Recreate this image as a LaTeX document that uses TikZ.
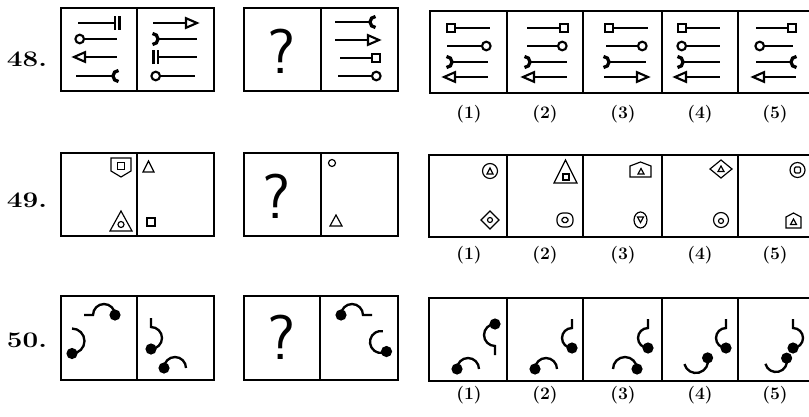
\documentclass[tikz,border=0pt]{standalone}
\usepackage{tikz}
\usetikzlibrary{calc}
\tikzset{
  frame/.style={draw, line width=1.6pt},
  thinframe/.style={draw, line width=1.2pt},
  sym/.style={line width=1.8pt},
  fig/.style={line width=1pt},
  qnum/.style={font=\fontsize{19}{21}\selectfont\bfseries},
  optlbl/.style={font=\fontsize{15}{17}\selectfont\bfseries},
  qmark/.style={font=\fontsize{54}{58}\selectfont\sffamily},
  pics/ring/.style={code={\draw[sym] (4.3,0) circle (4.3);}},
  pics/sqr/.style={code={\draw[sym] (0,-4) rectangle (8,4);}},
  pics/tip/.style={code={\draw[sym, line join=miter] (0,-4.8) -- (11,0) -- (0,4.8) -- cycle;}},
  pics/cup/.style={code={\draw[line width=2.8pt] (5.5,-5.5) arc[start angle=-90, end angle=-270, radius=5.5];}},
  pics/bars/.style={code={\draw[sym] (0,-7) -- (0,7) (4.5,-7) -- (4.5,7);}},
  pics/hook/.style n args={3}{code={
    \draw[line width=2pt] (#1:#3) arc[start angle=#1, end angle=#2, radius=#3];
    \fill (#1:#3) circle (5.6);}},
  pics/hookbar/.style n args={3}{code={
    \draw[line width=2pt] (#1:#3) arc[start angle=#1, end angle=#2, radius=#3] -- ({#2}:{#3+9});
    \fill (#1:#3) circle (5.6);}},
}
\begin{document}
\begin{tikzpicture}[x=0.03cm, y=-0.03cm]
  \useasboundingbox (0,0) rectangle (809,416);
  \clip (0,0) rectangle (809,416);
  % row 48
  \node[qnum] (q48) at (27,59) {\scalebox{1.25}[1]{48.}};
  \draw[frame] (61,8) rectangle (214,91) (137,8) -- (137,91);
  \draw[frame] (244,8) rectangle (398,91) (321,8) -- (321,91);
  \draw[frame] (430,11) rectangle (830,93);
  \foreach \x in {507,583,662,738} \draw[frame] (\x,11) -- (\x,93);
  \node[qmark] (m48) at (282,51) {?};
  \draw[sym] (78,23) -- (115,23); \pic at (115,23) {bars};
  \draw[sym] (84,39) -- (117,39); \pic[rotate=180] at (84,39) {ring};
  \draw[sym] (85,57) -- (117,57); \pic[rotate=180] at (85,57) {tip};
  \draw[sym] (76,76) -- (113,76); \pic at (113,76) {cup};
  \draw[sym] (153,23) -- (186,23); \pic at (186,23) {tip};
  \draw[sym] (158,39) -- (197,39); \pic[rotate=180] at (158,39) {cup};
  \draw[sym] (158,57) -- (197,57); \pic[rotate=180] at (158,57) {bars};
  \draw[sym] (160,76) -- (195,76); \pic[rotate=180] at (160,76) {ring};
  \draw[sym] (335,22) -- (370,22); \pic at (370,22) {cup};
  \draw[sym] (335,40) -- (368,40); \pic at (368,40) {tip};
  \draw[sym] (340,58) -- (372,58); \pic at (372,58) {sqr};
  \draw[sym] (338,76) -- (372,76); \pic at (372,76) {ring};
  \draw[sym] (455,28) -- (490,28); \pic[rotate=180] at (455,28) {sqr};
  \draw[sym] (447,46) -- (482,46); \pic at (482,46) {ring};
  \draw[sym] (452,62) -- (488,62); \pic[rotate=180] at (452,62) {cup};
  \draw[sym] (455,77) -- (488,77); \pic[rotate=180] at (455,77) {tip};
  \draw[sym] (527,28) -- (560,28); \pic at (560,28) {sqr};
  \draw[sym] (527,46) -- (558,46); \pic at (558,46) {ring};
  \draw[sym] (530,62) -- (567,62); \pic[rotate=180] at (530,62) {cup};
  \draw[sym] (534,77) -- (567,77); \pic[rotate=180] at (534,77) {tip};
  \draw[sym] (613,28) -- (648,28); \pic[rotate=180] at (613,28) {sqr};
  \draw[sym] (606,46) -- (638,46); \pic at (638,46) {ring};
  \draw[sym] (609,62) -- (646,62); \pic[rotate=180] at (609,62) {cup};
  \draw[sym] (604,77) -- (637,77); \pic at (637,77) {tip};
  \draw[sym] (686,28) -- (720,28); \pic[rotate=180] at (686,28) {sqr};
  \draw[sym] (686,46) -- (720,46); \pic[rotate=180] at (686,46) {ring};
  \draw[sym] (683,62) -- (720,62); \pic[rotate=180] at (683,62) {cup};
  \draw[sym] (686,77) -- (720,77); \pic[rotate=180] at (686,77) {tip};
  \draw[sym] (756,28) -- (788,28); \pic at (788,28) {sqr};
  \draw[sym] (764,46) -- (793,46); \pic[rotate=180] at (764,46) {ring};
  \draw[sym] (756,62) -- (791,62); \pic at (791,62) {cup};
  \draw[sym] (764,77) -- (796,77); \pic[rotate=180] at (764,77) {tip};
  \foreach \x/\n in {469/1,545/2,623/3,700/4,775/5}
    \node[optlbl] (a48\n) at (\x,114) {(\n)};
  % row 49
  \node[qnum] (q49) at (27,200) {\scalebox{1.25}[1]{49.}};
  \draw[thinframe] (61,153) rectangle (214,236) (137,153) -- (137,236);
  \draw[thinframe] (244,153) rectangle (398,236) (321,153) -- (321,236);
  \draw[thinframe] (429,155) rectangle (830,237);
  \foreach \x in {507,583,662,738} \draw[thinframe] (\x,155) -- (\x,237);
  \node[qmark] (m49) at (277,196) {?};
  \draw[fig] (111,158) -- (131,158) -- (131,171) -- (121,177) -- (111,171) -- cycle;
  \draw[fig] (117.5,162.5) rectangle (124.5,169.5);
  \draw[fig] (110,231) -- (132,231) -- (121,211) -- cycle;
  \draw[fig] (121,224.5) circle (3);
  \draw[fig] (143,172) -- (154,172) -- (148.5,161) -- cycle;
  \draw[fig] (147,218) rectangle (155,226);
  \draw[fig] (332,163) circle (3.5);
  \draw[fig] (330,226) -- (342,226) -- (336,215) -- cycle;
  \draw[fig] (490,171) circle (7.5);
  \draw[fig] (487,174) -- (493,174) -- (490,168) -- cycle;
  \draw[fig] (490,211) -- (499,220) -- (490,229) -- (481,220) -- cycle;
  \draw[fig] (490,220) circle (2.5);
  \draw[fig] (554,183) -- (577,183) -- (565.5,160) -- cycle;
  \draw[fig] (563,174) rectangle (569,180);
  \draw[fig, rounded corners=5pt] (557,213) rectangle (573,227);
  \draw[fig, rounded corners=1.5pt] (562,217.5) rectangle (568,222.5);
  \draw[fig] (630,177) -- (630,166) -- (640.5,162) -- (651,166) -- (651,177) -- cycle;
  \draw[fig] (638,174) -- (644,174) -- (641,168.5) -- cycle;
  \draw[fig] (640.5,220) ellipse (6.5 and 8);
  \draw[fig] (637.5,217) -- (643.5,217) -- (640.5,222.5) -- cycle;
  \draw[fig] (721,160) -- (732,169) -- (721,178) -- (710,169) -- cycle;
  \draw[fig] (718,171.5) -- (724,171.5) -- (721,166) -- cycle;
  \draw[fig] (721,220) circle (7.5);
  \draw[fig] (721,221) circle (2.5);
  \draw[fig] (797.5,170) circle (7.5);
  \draw[fig, rounded corners=1pt] (794.5,167) rectangle (800.5,173);
  \draw[fig] (786,228) -- (786,217) -- (793.5,213) -- (801,217) -- (801,228) -- cycle;
  \draw[fig] (790.5,224.5) -- (796.5,224.5) -- (793.5,219) -- cycle;
  \foreach \x/\n in {469/1,545/2,623/3,700/4,775/5}
    \node[optlbl] (a49\n) at (\x,255) {(\n)};
  % row 50
  \node[qnum] (q50) at (27,340) {\scalebox{1.25}[1]{50.}};
  \draw[thinframe] (61,296) rectangle (214,380) (137,296) -- (137,380);
  \draw[thinframe] (244,296) rectangle (398,380) (320,296) -- (320,380);
  \draw[thinframe] (429,298) rectangle (830,381);
  \foreach \x in {507,583,662,738} \draw[thinframe] (\x,298) -- (\x,381);
  \node[qmark] (m50) at (282,337) {?};
  \pic at (104,315) {hookbar={0}{-180}{11}};
  \pic at (72,341) {hook={90}{-90}{12.5}};
  \pic at (151,338) {hookbar={90}{-90}{11}};
  \pic at (175,368) {hook={180}{360}{11}};
  \pic at (352,315) {hookbar={180}{360}{11}};
  \pic at (381,342) {hook={60}{280}{11}};
  \pic at (495,335) {hookbar={270}{90}{11}};
  \pic at (468,369) {hook={180}{360}{11}};
  \pic at (572,338) {hookbar={90}{270}{10}};
  \pic at (546,369) {hook={180}{360}{11}};
  \pic at (648,338) {hookbar={90}{270}{10}};
  \pic at (625,369) {hook={0}{-180}{12}};
  \pic at (726,338) {hookbar={90}{270}{10}};
  \pic at (696,361) {hook={-15}{165}{12}};
  \pic at (793,338) {hookbar={90}{-90}{10}};
  \pic at (776,361) {hook={-15}{165}{11}};
  \foreach \x/\n in {469/1,545/2,623/3,700/4,775/5}
    \node[optlbl] (a50\n) at (\x,395) {(\n)};
\end{tikzpicture}
\end{document}
